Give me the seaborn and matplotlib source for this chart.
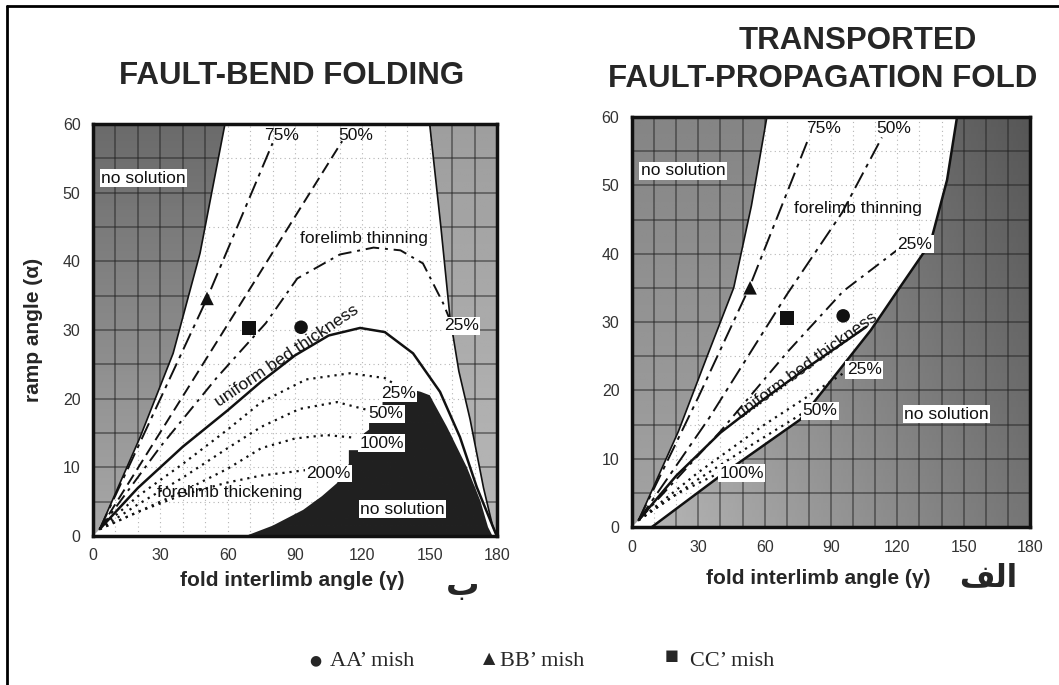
import numpy as np
import pandas as pd
import matplotlib.pyplot as plt
import seaborn as sns
from matplotlib.lines import Line2D

# ------------------------------------------------------------
# values (degrees)
# ------------------------------------------------------------
x_ticks = [0, 30, 60, 90, 120, 150, 180]
y_ticks = [0, 10, 20, 30, 40, 50, 60]

# FAULT-BEND FOLDING (left panel)
fb_left_edge_x = [0, 3, 21, 35.7, 47.7, 58.8]
fb_left_edge_y = [0, 1, 14.4, 26.6, 41.2, 60]
fb_right_edge_x = [180, 178, 174, 168, 163, 159, 155, 150]
fb_right_edge_y = [0, 1.5, 7, 17, 24, 32, 45, 60]
fb_dark_x = [68, 80, 93.6, 102, 108.7, 110, 114, 114, 119, 119, 123, 123,
             129, 129, 140, 146, 150, 157.7, 166.6, 172.5, 176, 178]
fb_dark_y = [0, 1.5, 3.8, 5.8, 7.7, 8.5, 10.5, 12.5, 12.5, 14.5, 15.5, 18,
             18.5, 21.5, 21.5, 21, 20.5, 15.9, 10, 5.2, 1.3, 0]

fb_75_x = [3, 50.8, 80]
fb_75_y = [1, 34.6, 57.2]
fb_50_x = [3, 60, 111]
fb_50_y = [1, 30.8, 57.5]
fb_25_x = [3, 30, 55, 77, 91, 110, 125, 137, 147, 156, 159]
fb_25_y = [1, 13, 23, 31, 37.5, 41, 42, 41.6, 39.7, 33.9, 31.5]
fb_uni_x = [3, 20, 40, 60, 75, 90, 105, 119, 130, 142.6, 154.6, 163.5, 171, 177, 179.5]
fb_uni_y = [1, 7, 13, 18.3, 22.5, 26.3, 29.2, 30.3, 29.7, 26.6, 21, 14.4, 7.1, 2.3, 0.3]
fb_t25_x = [3, 20, 40, 60, 75, 95, 114.5, 130, 140]
fb_t25_y = [1, 5.8, 10.5, 15.5, 19.5, 22.8, 23.7, 23, 21]
fb_t50_x = [3, 20, 40, 60, 75, 92, 108.7, 123]
fb_t50_y = [1, 4.6, 8.5, 12.8, 15.9, 18.5, 19.5, 18.3]
fb_t100_x = [3, 20, 40, 60, 75, 90, 104, 117]
fb_t100_y = [1, 3.5, 6.5, 9.8, 12.8, 14.2, 14.7, 14.3]
fb_t200_x = [3, 20, 40, 60, 75, 95]
fb_t200_y = [1, 3.5, 6, 7.8, 8.8, 9.6]

# TRANSPORTED FAULT-PROPAGATION FOLD (right panel)
ft_left_edge_x = [0, 3, 21, 34, 46, 54, 61]
ft_left_edge_y = [0, 1, 14, 25, 35, 47, 60]
ft_right_edge_x = [9, 40, 76, 108, 121, 135, 142.5, 147]
ft_right_edge_y = [0, 7.5, 15.7, 28.8, 35, 41.6, 50.8, 60]

ft_75_x = [3, 30, 53, 80]
ft_75_y = [1, 19, 35, 57]
ft_50_x = [3, 35, 70, 95, 113]
ft_50_y = [1, 16, 34, 46, 57]
ft_25_x = [3, 40, 70, 95.5, 121]
ft_25_y = [1, 14, 25.5, 34.5, 40.8]
ft_uni_x = [3, 20, 40, 60, 80, 106]
ft_uni_y = [1, 7.5, 13.8, 18.8, 23.5, 29.3]
ft_t25_x = [3, 30, 60, 97]
ft_t25_y = [1, 8, 15, 22.8]
ft_t50_x = [3, 30, 55, 77]
ft_t50_y = [1, 7, 12.2, 16.6]
ft_t100_x = [3, 20, 40]
ft_t100_y = [1, 4.8, 8]

# measured sections
section_names = ["AA", "BB", "CC"]
fb_sec_x = [92.7, 50.8, 69.5]
fb_sec_y = [30.4, 34.6, 30.3]
ft_sec_x = [95.5, 53.4, 70]
ft_sec_y = [30.9, 35, 30.6]

# ------------------------------------------------------------
sns.set_style("white")
plt.rcParams['font.family'] = ['Liberation Sans', 'DejaVu Sans']

fig = plt.figure(figsize=(10.59, 6.85), dpi=100)
ax_l = fig.add_axes([93 / 1059, 1 - 536 / 685, 404 / 1059, 412 / 685])
ax_r = fig.add_axes([632 / 1059, 1 - 527 / 685, 398 / 1059, 410 / 685])

# scan border (left and top only)
fig.add_artist(Line2D([7 / 1059, 7 / 1059], [0, 1 - 6 / 685], color='k', lw=2))
fig.add_artist(Line2D([7 / 1059, 1], [1 - 6 / 685, 1 - 6 / 685], color='k', lw=2))

XX, YY = np.meshgrid(np.linspace(0, 180, 180), np.linspace(0, 60, 60))


def shade(ax, coll, field):
    # grey texture inside a "no solution" region, with darker grid lines
    path = coll.get_paths()[0]
    coll.set_visible(False)
    im = ax.imshow(field, extent=[0, 180, 0, 60], origin='lower', cmap='gray',
                   vmin=0, vmax=1, aspect='auto', zorder=1, interpolation='bilinear')
    im.set_clip_path(path, ax.transData)
    for gx in range(10, 180, 10):
        ln, = ax.plot([gx, gx], [0, 60], color='#222222', lw=1.3, alpha=0.5, zorder=1.5)
        ln.set_clip_path(path, ax.transData)
    for gy in range(5, 60, 5):
        ln, = ax.plot([0, 180], [gy, gy], color='#222222', lw=1.3, alpha=0.5, zorder=1.5)
        ln.set_clip_path(path, ax.transData)


def curve(ax, x, y, ls, lw=1.4):
    sns.lineplot(x=x, y=y, ax=ax, color='#111111', lw=lw, sort=False,
                 linestyle=ls, estimator=None, zorder=4)


def label(ax, x, y, s, box=True, rot=0, size=12.5):
    kw = dict(ha='center', va='center', fontsize=size, rotation=rot, zorder=6,
              color='#111111')
    if box:
        kw['bbox'] = dict(boxstyle='square,pad=0.08', fc='white', ec='none')
    ax.text(x, y, s, **kw)


dash_long = (0, (9, 3, 2, 3))
dash_med = (0, (6, 3))
dash_25 = (0, (7, 3, 1.5, 3))
dots = (0, (1, 2.2))

for ax in (ax_l, ax_r):
    ax.set_facecolor('white')
    for gx in range(10, 180, 10):
        ax.axvline(gx, color='#b5b5b5', lw=0.8, ls=(0, (1, 3)), zorder=0.5)
    for gy in range(5, 60, 5):
        ax.axhline(gy, color='#b5b5b5', lw=0.8, ls=(0, (1, 3)), zorder=0.5)

# ---------------- left panel ----------------
c = ax_l.fill_betweenx(fb_left_edge_y, 0, fb_left_edge_x)
shade(ax_l, c, 0.66 - 0.24 * YY / 60)
c = ax_l.fill_betweenx(fb_right_edge_y, fb_right_edge_x, 180)
shade(ax_l, c, 0.72 - 0.1 * YY / 60)
c = ax_l.fill_between(fb_dark_x, 0, fb_dark_y)
shade(ax_l, c, 0.13 + 0.0 * YY)
ax_l.plot(fb_left_edge_x[1:], fb_left_edge_y[1:], color='#111111', lw=1.2, zorder=3)
ax_l.plot(fb_right_edge_x, fb_right_edge_y, color='#111111', lw=1.2, zorder=3)

curve(ax_l, fb_75_x, fb_75_y, dash_long)
curve(ax_l, fb_50_x, fb_50_y, dash_med)
curve(ax_l, fb_25_x, fb_25_y, dash_25)
curve(ax_l, fb_uni_x, fb_uni_y, '-', lw=1.8)
for xs, ys in [(fb_t25_x, fb_t25_y), (fb_t50_x, fb_t50_y),
               (fb_t100_x, fb_t100_y), (fb_t200_x, fb_t200_y)]:
    curve(ax_l, xs, ys, dots, lw=1.6)

label(ax_l, 22.5, 52.1, 'no solution')
label(ax_l, 84, 58.3, '75%', box=False)
label(ax_l, 117, 58.3, '50%', box=False)
label(ax_l, 120.5, 43.3, 'forelimb thinning', box=False)
label(ax_l, 164, 30.6, '25%')
label(ax_l, 86.5, 26.3, 'uniform bed thickness', box=False, rot=34)
label(ax_l, 136, 20.8, '25%')
label(ax_l, 130.5, 17.8, '50%')
label(ax_l, 128.5, 13.5, '100%')
label(ax_l, 105, 9.1, '200%')
label(ax_l, 61, 6.3, 'forelimb thickening', box=False)
label(ax_l, 138, 3.9, 'no solution')

# ---------------- right panel ----------------
c = ax_r.fill_betweenx(ft_left_edge_y, 0, ft_left_edge_x)
shade(ax_r, c, 0.64 - 0.12 * YY / 60)
c = ax_r.fill_betweenx(ft_right_edge_y, ft_right_edge_x, 180)
shade(ax_r, c, 0.72 - 0.26 * XX / 180 - 0.12 * YY / 60)
ax_r.plot(ft_left_edge_x[1:], ft_left_edge_y[1:], color='#111111', lw=1.2, zorder=3)
ax_r.plot(ft_right_edge_x, ft_right_edge_y, color='#111111', lw=1.8, zorder=3)

curve(ax_r, ft_75_x, ft_75_y, dash_long)
curve(ax_r, ft_50_x, ft_50_y, dash_long)
curve(ax_r, ft_25_x, ft_25_y, dash_25)
curve(ax_r, ft_uni_x, ft_uni_y, '-', lw=1.8)
for xs, ys in [(ft_t25_x, ft_t25_y), (ft_t50_x, ft_t50_y), (ft_t100_x, ft_t100_y)]:
    curve(ax_r, xs, ys, dots, lw=1.6)

label(ax_r, 23, 52.1, 'no solution')
label(ax_r, 86.5, 58.3, '75%', box=False)
label(ax_r, 118.5, 58.3, '50%', box=False)
label(ax_r, 102.3, 46.6, 'forelimb thinning', box=False)
label(ax_r, 128, 41.4, '25%')
label(ax_r, 79, 23.6, 'uniform bed thickness', box=False, rot=36)
label(ax_r, 105, 23, '25%')
label(ax_r, 85, 17, '50%')
label(ax_r, 49.5, 7.9, '100%')
label(ax_r, 142.3, 16.5, 'no solution')

# ---------------- sections ----------------
marks = {"AA": "o", "BB": "^", "CC": "s"}
for ax, xs, ys in [(ax_l, fb_sec_x, fb_sec_y), (ax_r, ft_sec_x, ft_sec_y)]:
    df = pd.DataFrame({"x": xs, "y": ys, "sec": section_names})
    sns.scatterplot(data=df, x="x", y="y", style="sec", markers=marks, color='#111111',
                    s=95, edgecolor='none', legend=False, ax=ax, zorder=7)

# ---------------- axes cosmetics ----------------
for ax in (ax_l, ax_r):
    ax.set_xlim(0, 180)
    ax.set_ylim(0, 60)
    ax.set_xticks(x_ticks)
    ax.set_yticks(y_ticks)
    ax.tick_params(direction='out', length=5, width=1, labelsize=11.5,
                   labelcolor='#333333', color='#333333', pad=4)
    ax.set_xlabel('')
    ax.set_ylabel('')
    for sp in ax.spines.values():
        sp.set_linewidth(2.5)
        sp.set_color('#111111')
        sp.set_zorder(8)

ax_l.set_ylabel('ramp angle (α)', fontsize=15, fontweight='bold', labelpad=14)

fig.text(292 / 1059, 1 - 76 / 685, 'FAULT-BEND FOLDING', ha='center', va='center',
         fontsize=22.5, fontweight='bold')
fig.text(858 / 1059, 1 - 41 / 685, 'TRANSPORTED', ha='center', va='center',
         fontsize=22.5, fontweight='bold')
fig.text(823 / 1059, 1 - 79 / 685, 'FAULT-PROPAGATION FOLD', ha='center', va='center',
         fontsize=22.5, fontweight='bold')

fig.text(292 / 1059, 1 - 580 / 685, 'fold interlimb angle (γ)', ha='center', va='center',
         fontsize=15, fontweight='bold')
fig.text(818 / 1059, 1 - 578 / 685, 'fold interlimb angle (γ)', ha='center', va='center',
         fontsize=15, fontweight='bold')
fig.text(463 / 1059, 1 - 585 / 685, 'ب', ha='center', va='center', fontsize=24,
         fontweight='bold', family=['DejaVu Sans'])
fig.text(988 / 1059, 1 - 578 / 685, '\ufed2\ufedf\ufe8d', ha='center', va='center',
         fontsize=22, fontweight='bold', family=['DejaVu Sans'])

serif = ['Liberation Serif', 'DejaVu Serif', 'DejaVu Sans']
fig.text(315 / 1059, 1 - 660 / 685, '●', ha='center', va='center', fontsize=10,
         family=['DejaVu Sans'])
fig.text(330 / 1059, 1 - 662 / 685, 'AA’ mish', ha='left', va='center', fontsize=16, family=serif)
fig.text(489 / 1059, 1 - 659 / 685, '▲', ha='center', va='center', fontsize=11.5,
         family=['DejaVu Sans'])
fig.text(500 / 1059, 1 - 662 / 685, 'BB’ mish', ha='left', va='center', fontsize=16, family=serif)
fig.text(672 / 1059, 1 - 655 / 685, '■', ha='center', va='center', fontsize=10.5,
         family=['DejaVu Sans'])
fig.text(690 / 1059, 1 - 662 / 685, 'CC’ mish', ha='left', va='center', fontsize=16, family=serif)

fig.savefig('out.png', dpi=100)
